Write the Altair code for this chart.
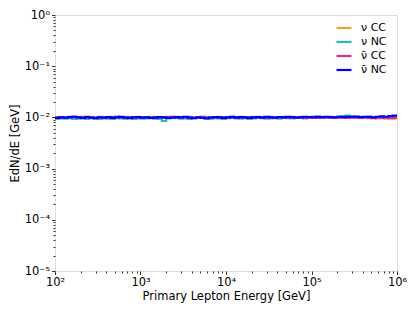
import numpy as np
import pandas as pd
import altair as alt

series_names = ["ν CC", "ν NC", "ν̄ CC", "ν̄ NC"]
series_colors = ["#EBA52E", "#2BBBAD", "#E0338F", "#0000FF"]
series_widths = [2.2, 2.2, 2.2, 2.8]

nu_cc = [0.0101,0.0102,0.0100,0.0103,0.0101,0.0099,0.0102,0.0104,0.0101,0.0100,
         0.0102,0.0101,0.0099,0.0103,0.0102,0.0100,0.0101,0.0103,0.0100,0.0102,
         0.0101,0.0099,0.0102,0.0103,0.0100,0.0101,0.0102,0.0100,0.0103,0.0101,
         0.0100,0.0102,0.0101,0.0099,0.0102,0.0103,0.0101,0.0100,0.0102,0.0101,
         0.0100,0.0103,0.0101,0.0102,0.0100,0.0101,0.0103,0.0102,0.0100,0.0101,
         0.0102,0.0100,0.0099,0.0102,0.0101,0.0103,0.0100,0.0102,0.0101,0.0100,
         0.0102,0.0101,0.0099,0.0100,0.0102,0.0101,0.0100,0.0099,0.0101,0.0100,
         0.0098,0.0100,0.0099,0.0097,0.0098,0.0096,0.0097,0.0095,0.0096,0.0095]

nu_nc = [0.0094,0.0096,0.0095,0.0097,0.0093,0.0095,0.0096,0.0094,0.0097,0.0095,
         0.0093,0.0096,0.0095,0.0094,0.0097,0.0096,0.0095,0.0098,0.0094,0.0096,
         0.0095,0.0096,0.0097,0.0095,0.0094,0.0085,0.0096,0.0098,0.0097,0.0095,
         0.0096,0.0094,0.0097,0.0099,0.0103,0.0096,0.0095,0.0097,0.0096,0.0094,
         0.0097,0.0098,0.0096,0.0095,0.0097,0.0094,0.0096,0.0098,0.0097,0.0095,
         0.0096,0.0097,0.0095,0.0098,0.0097,0.0096,0.0099,0.0098,0.0097,0.0100,
         0.0102,0.0104,0.0099,0.0098,0.0100,0.0101,0.0103,0.0106,0.0108,0.0105,
         0.0102,0.0100,0.0101,0.0103,0.0100,0.0099,0.0101,0.0100,0.0102,0.0101]

nubar_cc = [0.0100,0.0101,0.0099,0.0100,0.0102,0.0100,0.0099,0.0101,0.0100,0.0098,
            0.0101,0.0100,0.0099,0.0101,0.0102,0.0100,0.0099,0.0101,0.0100,0.0099,
            0.0100,0.0101,0.0098,0.0100,0.0101,0.0099,0.0100,0.0102,0.0100,0.0099,
            0.0101,0.0100,0.0098,0.0100,0.0101,0.0099,0.0100,0.0101,0.0099,0.0100,
            0.0101,0.0099,0.0100,0.0098,0.0100,0.0101,0.0099,0.0100,0.0101,0.0099,
            0.0100,0.0099,0.0101,0.0100,0.0098,0.0100,0.0099,0.0101,0.0097,0.0099,
            0.0100,0.0098,0.0099,0.0101,0.0099,0.0098,0.0100,0.0099,0.0098,0.0100,
            0.0099,0.0098,0.0100,0.0099,0.0097,0.0099,0.0098,0.0099,0.0097,0.0098]

nubar_nc = [0.0098,0.0100,0.0099,0.0101,0.0103,0.0100,0.0098,0.0101,0.0099,0.0097,
            0.0100,0.0099,0.0101,0.0098,0.0100,0.0102,0.0099,0.0097,0.0100,0.0101,
            0.0099,0.0100,0.0098,0.0099,0.0101,0.0100,0.0098,0.0099,0.0101,0.0100,
            0.0103,0.0099,0.0097,0.0100,0.0098,0.0096,0.0099,0.0101,0.0100,0.0098,
            0.0100,0.0102,0.0099,0.0101,0.0100,0.0098,0.0100,0.0101,0.0099,0.0102,
            0.0100,0.0099,0.0101,0.0100,0.0102,0.0101,0.0099,0.0100,0.0102,0.0101,
            0.0100,0.0102,0.0101,0.0103,0.0101,0.0100,0.0102,0.0101,0.0103,0.0102,
            0.0104,0.0101,0.0103,0.0102,0.0100,0.0103,0.0105,0.0103,0.0106,0.0108]

all_series = [nu_cc, nu_nc, nubar_cc, nubar_nc]
edges = np.logspace(2, 6, len(nu_cc) + 1)

rows = []
for k, (name, vals) in enumerate(zip(series_names, all_series)):
    ys = list(vals) + [vals[-1]]
    for e, v in zip(edges, ys):
        rows.append({"E": float(e), "y": v, "series": name, "order": k})
df = pd.DataFrame(rows)

sup = {"-": "⁻", "0": "⁰", "1": "¹", "2": "²", "3": "³", "4": "⁴", "5": "⁵", "6": "⁶"}
def supstr(n):
    return "10" + "".join(sup[c] for c in str(n))

def minor_values(lo, hi):
    vals = []
    for p in range(lo, hi):
        for m in range(1, 10):
            vals.append(m * 10.0 ** p)
    vals.append(10.0 ** hi)
    return vals

def label_expr(lo, hi):
    arr = "[" + ",".join("'" + supstr(p) + "'" for p in range(lo, hi + 1)) + "]"
    lg = "log(datum.value)/LN10"
    return (f"abs({lg} - round({lg})) < 1e-6 ? {arr}[round({lg}) - ({lo})] : ''")

major_test = "abs(log(datum.value)/LN10 - round(log(datum.value)/LN10)) < 1e-6"
font = "DejaVu Sans"

common_axis = dict(
    grid=False, domain=False, tickColor="black", tickWidth=0.8, labelColor="black",
    labelFont=font, labelFontSize=11.5, titleFont=font, titleFontSize=11.5,
    titleFontWeight="normal", titleColor="black", labelOverlap=False,
    labelFlush=False, tickSize={"condition": {"test": major_test, "value": 3.5}, "value": 2},
)

x = alt.X("E:Q", scale=alt.Scale(type="log", domain=[1e2, 1e6], nice=False),
          axis=alt.Axis(values=minor_values(2, 6), labelExpr=label_expr(2, 6),
                        title="Primary Lepton Energy [GeV]", labelPadding=2, titlePadding=2,
                        **common_axis))
y = alt.Y("y:Q", scale=alt.Scale(type="log", domain=[1e-5, 1], nice=False),
          axis=alt.Axis(values=minor_values(-5, 0), labelExpr=label_expr(-5, 0),
                        title="EdN/dE [GeV]", labelPadding=2, titlePadding=4,
                        **common_axis))

chart = alt.Chart(df).mark_line(interpolate="step-after", clip=True).encode(
    x=x, y=y,
    color=alt.Color("series:N",
                    scale=alt.Scale(domain=series_names, range=series_colors),
                    legend=alt.Legend(title=None, orient="none", legendX=280, legendY=4,
                                      symbolType="stroke", symbolSize=225,
                                      symbolStrokeWidth=2.5, labelFont=font,
                                      labelFontSize=11, labelColor="black",
                                      labelOffset=8, rowPadding=0, padding=0)),
    strokeWidth=alt.StrokeWidth("series:N",
                                scale=alt.Scale(domain=series_names, range=series_widths),
                                legend=None),
    order=alt.Order("order:Q"),
    detail="series:N",
).properties(
    width=342, height=256,
    padding={"left": 47, "top": 7, "right": 10, "bottom": 40},
    autosize=alt.AutoSizeParams(type="none"),
).configure_view(stroke="black", strokeWidth=1).configure(background="white")

chart.save("out.html", embed_options={"renderer": "svg", "actions": False})
